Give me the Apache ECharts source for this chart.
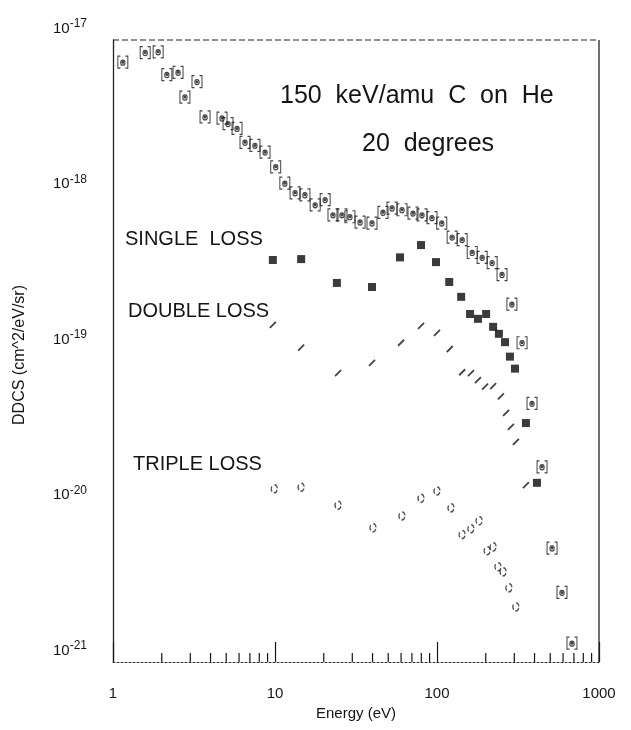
<!DOCTYPE html>
<html>
<head>
<meta charset="utf-8">
<script src="https://cdn.jsdelivr.net/npm/echarts@6/dist/echarts.min.js"></script>
<style>
  html, body { margin: 0; padding: 0; background: #fff; }
  #chart { width: 631px; height: 730px; }
</style>
</head>
<body>
<div id="chart"></div>
<script>
// Electron DDCS, 150 keV/amu C on He at 20 degrees (energy in eV, DDCS in cm^2/eV/sr)

// All electrons (bracketed symbols)
const totalEnergy = [1.15, 1.58, 1.90, 2.15, 2.52, 2.78, 3.30, 3.70, 4.71, 5.13, 5.83, 6.53, 7.52, 8.68,
  10.1, 11.5, 13.3, 15.3, 17.7, 20.4, 22.8, 25.9, 29.0, 33.5, 39.7, 46.4, 52.8, 60.8, 71.1, 80.8,
  93.1, 107, 124, 143, 165, 190, 219, 252, 290, 335, 386, 445, 513, 591, 681];
const totalDdcs = [7.2e-18, 8.3e-18, 8.4e-18, 6.0e-18, 6.2e-18, 4.3e-18, 5.4e-18, 3.2e-18, 3.15e-18, 2.9e-18,
  2.7e-18, 2.2e-18, 2.1e-18, 1.9e-18, 1.53e-18, 1.2e-18, 1.04e-18, 1.01e-18, 8.7e-19, 9.4e-19,
  7.5e-19, 7.5e-19, 7.3e-19, 6.75e-19, 6.65e-19, 7.8e-19, 8.3e-19, 8.1e-19, 7.7e-19, 7.5e-19,
  7.2e-19, 6.65e-19, 5.4e-19, 5.2e-19, 4.3e-19, 4.0e-19, 3.7e-19, 3.1e-19, 2.0e-19, 1.13e-19,
  4.6e-20, 1.8e-20, 5.4e-21, 2.8e-21, 1.32e-21];

// Single electron loss (filled squares)
const singleEnergy = [9.7, 14.5, 24.1, 39.7, 59.1, 79.7, 98.6, 119, 141, 160, 179, 201, 222, 241, 263, 282, 303, 354, 414];
const singleDdcs = [3.85e-19, 3.9e-19, 2.74e-19, 2.58e-19, 4.0e-19, 4.8e-19, 3.73e-19, 2.78e-19, 2.23e-19, 1.73e-19,
  1.61e-19, 1.73e-19, 1.43e-19, 1.29e-19, 1.14e-19, 9.2e-20, 7.7e-20, 3.44e-20, 1.42e-20];

// Double electron loss (slashes)
const doubleEnergy = [9.7, 14.5, 24.5, 39.7, 60.0, 79.7, 100, 120, 143, 162, 179, 198, 222, 248, 267, 286, 307, 354];
const doubleDdcs = [1.47e-19, 1.05e-19, 7.2e-20, 8.4e-20, 1.13e-19, 1.45e-19, 1.31e-19, 1.03e-19, 7.3e-20, 7.2e-20,
  6.5e-20, 5.9e-20, 5.95e-20, 5.1e-20, 4.0e-20, 3.25e-20, 2.6e-20, 1.37e-20];

// Triple electron loss (open circles)
const tripleEnergy = [9.9, 14.5, 24.5, 40.3, 60.8, 79.7, 100, 122, 143, 162, 182, 204, 222, 238, 256, 278, 307];
const tripleDdcs = [1.30e-20, 1.33e-20, 1.02e-20, 7.3e-21, 8.7e-21, 1.13e-20, 1.26e-20, 9.8e-21, 6.6e-21, 7.2e-21,
  8.1e-21, 5.2e-21, 5.5e-21, 4.1e-21, 3.8e-21, 3.0e-21, 2.26e-21];

// Minor ticks on the energy axis
const xMinorTicks = [2, 3, 4, 5, 6, 7, 8, 9, 20, 30, 40, 50, 60, 70, 80, 90, 200, 300, 400, 500, 600, 700, 800, 900];

const INK = '#151515';
const FONT = '"Liberation Sans", Arial, Helvetica, sans-serif';
const zip = (xs, ys) => xs.map((x, i) => [x, ys[i]]);
// a hair outside whole decades so both end labels survive float rounding
const Y_MIN = 0.9995e-21, Y_MAX = 1.0005e-17;

const chart = echarts.init(document.getElementById('chart'), null, { width: 631, height: 730 });

// marker shapes
const bracketRing = 'path://M3,0H0V14H3M9,0H12V14H9M8.6,7.5A2.6,3 0 1 1 3.4,7.5A2.6,3 0 1 1 8.6,7.5';
const slash = 'path://M0,8L8,0';
const brokenRing = 'path://M3.2,0A3,4 0 0 1 6,3.6M5.8,5.2A3,4 0 0 1 2.4,8M0.8,6.9A3,4 0 0 1 0.6,1.6';

const option = {
  backgroundColor: '#fff',
  animation: false,
  grid: { left: 113, right: 32, top: 40, bottom: 68, containLabel: false, outerBoundsMode: 'none' },
  xAxis: {
    type: 'log', logBase: 10, min: 1, max: 1000,
    name: 'Energy (eV)', nameLocation: 'middle', nameGap: 44,
    nameTextStyle: { fontFamily: FONT, fontSize: 15, color: INK },
    axisLine: { show: true, onZero: false, lineStyle: { color: '#333', width: 1, type: [2, 2] } },
    axisTick: { show: true, inside: true, length: 20, lineStyle: { color: INK, width: 1.2 } },
    axisLabel: { fontFamily: FONT, fontSize: 15, color: INK, margin: 24, formatter: v => String(Math.round(v)) },
    splitLine: { show: false }
  },
  yAxis: {
    type: 'log', logBase: 10, min: Y_MIN, max: Y_MAX,
    axisLine: { show: true, onZero: false, lineStyle: { color: '#222', width: 1.3 } },
    axisTick: { show: false },
    axisLabel: {
      margin: 26, showMinLabel: true, showMaxLabel: true,
      formatter: v => {
        const e = Math.round(Math.log10(v));
        if (Math.abs(Math.log10(v) - e) > 0.01) return '';
        return '{b|10}{s|-' + Math.abs(e) + '}\n{gap| }';
      },
      rich: {
        b: { fontFamily: FONT, fontSize: 15, color: INK, verticalAlign: 'bottom', lineHeight: 18 },
        s: { fontFamily: FONT, fontSize: 12, color: INK, verticalAlign: 'top', lineHeight: 18 },
        gap: { fontSize: 6, lineHeight: 26 }
      }
    },
    splitLine: { show: false }
  },
  series: [
    {
      name: 'All', type: 'scatter', data: zip(totalEnergy, totalDdcs),
      symbol: bracketRing, symbolSize: [10, 12],
      itemStyle: { color: 'none', borderColor: INK, borderWidth: 1.1 }
    },
    {
      name: 'All (centre)', type: 'scatter', data: zip(totalEnergy, totalDdcs),
      symbol: 'circle', symbolSize: 3, itemStyle: { color: INK }, silent: true
    },
    {
      name: 'Single loss', type: 'scatter', data: zip(singleEnergy, singleDdcs),
      symbol: 'rect', symbolSize: 8, itemStyle: { color: '#0a0a0a' }
    },
    {
      name: 'Double loss', type: 'scatter', data: zip(doubleEnergy, doubleDdcs),
      symbol: slash, symbolSize: 6,
      itemStyle: { color: 'none', borderColor: INK, borderWidth: 1.8 }
    },
    {
      name: 'Triple loss', type: 'scatter', data: zip(tripleEnergy, tripleDdcs),
      symbol: brokenRing, symbolSize: [6, 8],
      itemStyle: { color: 'none', borderColor: '#222', borderWidth: 1.3 }
    },
    {
      // frame (top dashed, right solid) and minor ticks along the energy axis
      name: 'frame', type: 'custom', silent: true, z: 1,
      data: [0],
      renderItem: (params, api) => {
        const tl = api.coord([1, Y_MAX]);
        const tr = api.coord([1000, Y_MAX]);
        const br = api.coord([1000, Y_MIN]);
        const children = [
          { type: 'line', shape: { x1: tl[0], y1: tl[1], x2: tr[0], y2: tr[1] },
            style: { stroke: '#222', lineWidth: 1, lineDash: [6, 3] } },
          { type: 'line', shape: { x1: tr[0], y1: tr[1], x2: br[0], y2: br[1] },
            style: { stroke: '#222', lineWidth: 1.3 } }
        ];
        xMinorTicks.forEach(t => {
          const p = api.coord([t, Y_MIN]);
          children.push({ type: 'line', shape: { x1: p[0], y1: p[1], x2: p[0], y2: p[1] - 9 },
            style: { stroke: INK, lineWidth: 1.2 } });
        });
        return { type: 'group', children };
      }
    }
  ],
  graphic: [
    { type: 'text', x: 20, y: 355, rotation: Math.PI / 2,
      style: { text: 'DDCS (cm^2/eV/sr)', fontFamily: FONT, fontSize: 16, fill: INK, align: 'center', verticalAlign: 'middle' } },
    { type: 'text', left: 280, top: 84, style: { text: '150  keV/amu  C  on  He', fontFamily: FONT, fontSize: 25, fill: INK } },
    { type: 'text', left: 362, top: 132, style: { text: '20  degrees', fontFamily: FONT, fontSize: 25, fill: INK } },
    { type: 'text', left: 125, top: 229, style: { text: 'SINGLE  LOSS', fontFamily: FONT, fontSize: 20, fill: INK } },
    { type: 'text', left: 128, top: 301, style: { text: 'DOUBLE LOSS', fontFamily: FONT, fontSize: 20, fill: INK } },
    { type: 'text', left: 133, top: 454, style: { text: 'TRIPLE LOSS', fontFamily: FONT, fontSize: 20, fill: INK } }
  ]
};

chart.setOption(option);
</script>
</body>
</html>
